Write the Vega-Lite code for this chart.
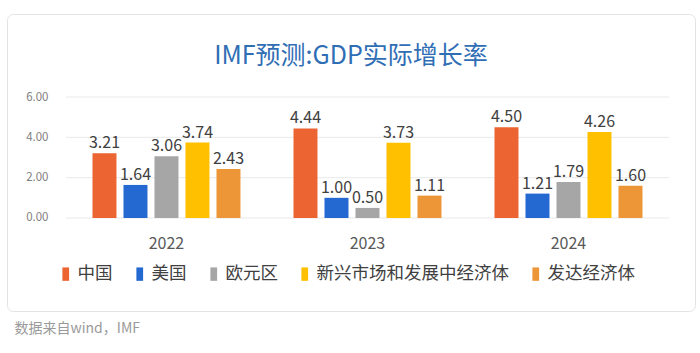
{
  "$schema": "https://vega.github.io/schema/vega-lite/v6.json",
  "autosize": {"type": "pad"},
  "padding": {"left": 6, "top": 13, "right": 6, "bottom": 5},
  "background": "white",
  "title": {"text": "数据来自wind，IMF", "orient": "bottom", "anchor": "start", "frame": "bounds", "offset": 10, "dx": 8, "baseline": "top", "font": "Noto Sans CJK SC", "fontSize": 14, "fontWeight": "normal", "color": "#9a9a9a"},
  "config": {"view": {"stroke": "#e3e3e3", "cornerRadius": 6, "fill": "white"}, "font": "Noto Sans CJK SC"},
  "vconcat": [
    {
      "width": 688,
      "height": 297,
      "title": {"text": "IMF预测:GDP实际增长率", "anchor": "middle", "frame": "group", "offset": -67, "baseline": "middle", "font": "Noto Sans CJK SC", "fontSize": 25, "fontWeight": "normal", "color": "#2F6EB5"},
      "layer": [
        {
          "data": {"values": [{"g": 0}, {"g": 2}, {"g": 4}, {"g": 6}]},
          "mark": {"type": "rule", "color": "#e9e9e9", "strokeWidth": 1},
          "encoding": {
            "y": {"field": "g", "type": "quantitative",
              "scale": {"domain": [-4.612, 10.116], "nice": false, "zero": false},
              "axis": {"title": null, "values": [0, 2, 4, 6], "format": ".2f", "grid": false, "ticks": false, "domain": false, "labelFontSize": 11.5, "labelColor": "#808080", "labelFont": "Noto Sans CJK SC", "offset": -45, "labelPadding": 4}},
            "x": {"datum": "2022", "type": "nominal", "bandPosition": 0,
              "axis": {"title": null, "labelFontSize": 16, "labelColor": "#595959", "labelFont": "Noto Sans CJK SC", "ticks": false, "domain": false, "labelPadding": 0, "offset": -67.5, "labelBaseline": "middle", "labelAngle": 0}},
            "x2": {"datum": "2024", "bandPosition": 1}
          }
        },
        {
          "data": {"values": [
            {"year": "2022", "series": "中国", "value": 3.21},
            {"year": "2022", "series": "美国", "value": 1.64},
            {"year": "2022", "series": "欧元区", "value": 3.06},
            {"year": "2022", "series": "新兴市场和发展中经济体", "value": 3.74},
            {"year": "2022", "series": "发达经济体", "value": 2.43},
            {"year": "2023", "series": "中国", "value": 4.44},
            {"year": "2023", "series": "美国", "value": 1.00},
            {"year": "2023", "series": "欧元区", "value": 0.50},
            {"year": "2023", "series": "新兴市场和发展中经济体", "value": 3.73},
            {"year": "2023", "series": "发达经济体", "value": 1.11},
            {"year": "2024", "series": "中国", "value": 4.50},
            {"year": "2024", "series": "美国", "value": 1.21},
            {"year": "2024", "series": "欧元区", "value": 1.79},
            {"year": "2024", "series": "新兴市场和发展中经济体", "value": 4.26},
            {"year": "2024", "series": "发达经济体", "value": 1.60}
          ]},
          "encoding": {
            "x": {"field": "year", "type": "nominal",
              "scale": {"domain": ["2022", "2023", "2024"], "paddingInner": 0, "paddingOuter": 0.2114, "align": 0.694},
              "axis": {"title": null, "labelFontSize": 16, "labelColor": "#595959", "labelFont": "Noto Sans CJK SC", "ticks": false, "domain": false, "labelPadding": 0, "offset": -67.5, "labelBaseline": "middle", "labelAngle": 0}},
            "xOffset": {"field": "series", "type": "nominal",
              "scale": {"domain": ["中国", "美国", "欧元区", "新兴市场和发展中经济体", "发达经济体"], "paddingInner": 0.226, "paddingOuter": 0.855}},
            "y": {"field": "value", "type": "quantitative",
              "scale": {"domain": [-4.612, 10.116], "nice": false, "zero": false},
              "axis": {"title": null, "values": [0, 2, 4, 6], "format": ".2f", "grid": false, "ticks": false, "domain": false, "labelFontSize": 11.5, "labelColor": "#808080", "labelFont": "Noto Sans CJK SC", "offset": -45, "labelPadding": 4}}
          },
          "layer": [
            {
              "mark": {"type": "bar"},
              "encoding": {
                "y2": {"datum": 0},
                "color": {"field": "series", "type": "nominal",
                  "scale": {"domain": ["中国", "美国", "欧元区", "新兴市场和发展中经济体", "发达经济体"], "range": ["#EC6431", "#2468D2", "#A6A6A6", "#FFC000", "#EC9637"]},
                  "legend": {"title": null, "orient": "none", "legendX": 50, "legendY": 251, "direction": "horizontal", "symbolType": "M-1,-2h2v4h-2z", "symbolSize": 45, "symbolStrokeWidth": 0, "labelFontSize": 17.5, "labelFont": "Noto Sans CJK SC", "labelColor": "#404040", "labelOffset": 3, "columnPadding": 18, "padding": 0, "labelLimit": 300}}
              }
            },
            {
              "mark": {"type": "text", "dy": -5, "baseline": "alphabetic", "fontSize": 16, "font": "Noto Sans CJK SC", "color": "#404040"},
              "encoding": {
                "text": {"field": "value", "type": "quantitative", "format": ".2f"}
              }
            }
          ]
        }
      ]
    }
  ]
}
